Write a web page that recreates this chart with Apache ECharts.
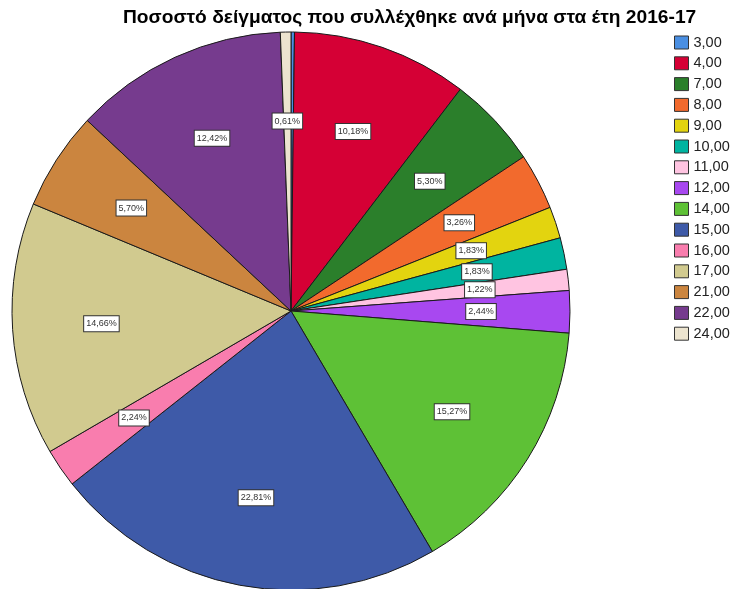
<!DOCTYPE html>
<html>
<head>
<meta charset="utf-8">
<script src="https://cdn.jsdelivr.net/npm/echarts@6/dist/echarts.min.js"></script>
<style>
  html, body { margin: 0; padding: 0; background: #fff; }
  #chart { width: 731px; height: 589px; }
</style>
</head>
<body>
<div id="chart"></div>
<script>
// μήνες (κατηγορίες) και ποσοστά δείγματος
var months = ["3,00", "4,00", "7,00", "8,00", "9,00", "10,00", "11,00", "12,00",
  "14,00", "15,00", "16,00", "17,00", "21,00", "22,00", "24,00"];
var percents = [0.20, 10.18, 5.30, 3.26, 1.83, 1.83, 1.22, 2.44,
  15.27, 22.81, 2.24, 14.66, 5.70, 12.42, 0.61];
var colors = ["#4a8fe2", "#d50035", "#2b7f2b", "#f26a2d", "#e3d40f", "#00b4a0", "#ffc4e1", "#a848f0",
  "#5ec136", "#3e5aa8", "#f97dae", "#d1ca8f", "#cb853f", "#763b8e", "#ece4cf"];

var chart = echarts.init(document.getElementById("chart"));

var pieData = months.map(function (m, i) {
  return { name: m, value: percents[i], itemStyle: { color: colors[i] } };
});

// overlay χωρίς χρώμα, μόνο για τις ετικέτες
var labelData = months.map(function (m, i) {
  return {
    name: m,
    value: percents[i],
    label: { show: percents[i] >= 0.5 }
  };
});

var option = {
  animation: false,
  title: {
    text: "Ποσοστό δείγματος που συλλέχθηκε ανά μήνα στα έτη 2016-17",
    left: 123,
    top: 8,
    padding: 0,
    textStyle: {
      fontFamily: "Liberation Sans, Arial, sans-serif",
      fontSize: 19.2,
      fontWeight: "bold",
      color: "#000"
    }
  },
  legend: {
    orient: "vertical",
    left: 674,
    top: 35,
    padding: 0,
    icon: "rect",
    itemWidth: 14,
    itemHeight: 13,
    itemGap: 5.8,
    selectedMode: false,
    data: months,
    itemStyle: { borderColor: "#333", borderWidth: 1 },
    textStyle: {
      fontFamily: "Liberation Sans, Arial, sans-serif",
      fontSize: 14.5,
      color: "#222"
    }
  },
  series: [
    {
      name: "main",
      type: "pie",
      center: [291, 311],
      radius: [0, 279],
      startAngle: 90,
      clockwise: true,
      silent: true,
      label: { show: false },
      labelLine: { show: false },
      itemStyle: { borderColor: "#1a1a1a", borderWidth: 1 },
      data: pieData
    },
    {
      name: "labels",
      type: "pie",
      center: [291, 311],
      radius: [95, 279],
      startAngle: 90,
      clockwise: true,
      silent: true,
      avoidLabelOverlap: false,
      itemStyle: { color: "rgba(0,0,0,0)", borderWidth: 0 },
      labelLine: { show: false },
      label: {
        position: "inside",
        formatter: function (p) {
          return p.value.toFixed(2).replace(".", ",") + "%";
        },
        fontFamily: "Liberation Sans, Arial, sans-serif",
        fontSize: 9,
        color: "#333",
        backgroundColor: "#fff",
        borderColor: "#333",
        borderWidth: 1,
        padding: [3, 2, 3, 2]
      },
      data: labelData
    }
  ]
};

chart.setOption(option);
</script>
</body>
</html>
